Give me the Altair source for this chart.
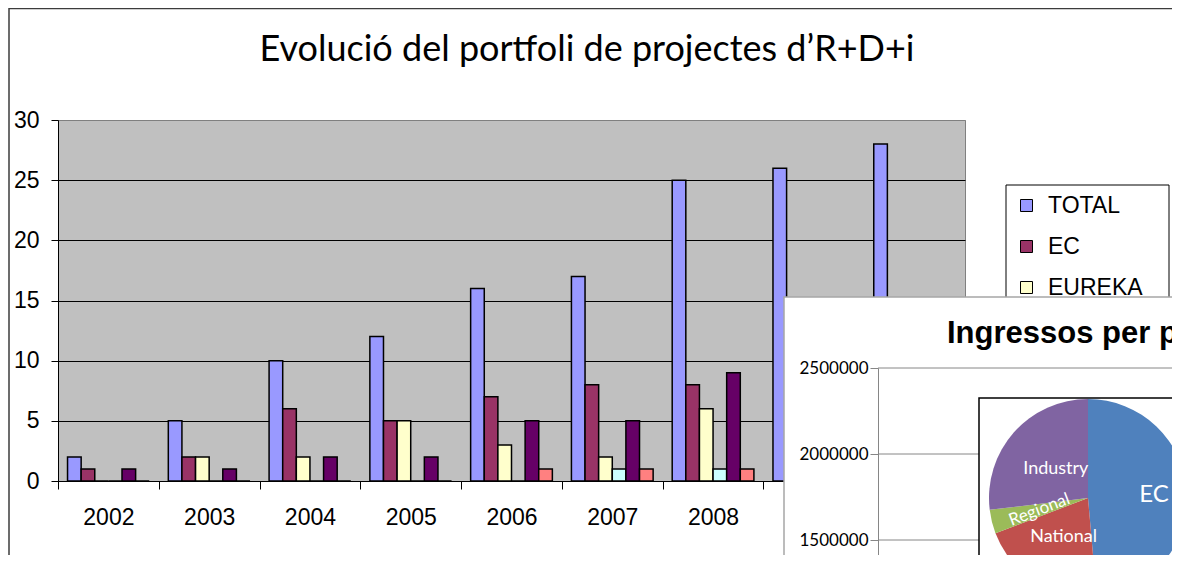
import altair as alt
import pandas as pd

# ---------------- data ----------------
years = ["2002", "2003", "2004", "2005", "2006", "2007", "2008", "2009", "2010"]
series = ["TOTAL", "EC", "EUREKA", "REGIONAL", "NACIONAL", "INDUSTRIA"]
total = [2, 5, 10, 12, 16, 17, 25, 26, 28]
ec = [1, 2, 6, 5, 7, 8, 8, 9, 10]
eureka = [0, 2, 2, 5, 3, 2, 6, 6, 6]
regional = [0, 0, 0, 0, 0, 1, 1, 1, 1]
nacional = [1, 1, 2, 2, 5, 5, 9, 9, 10]
industria = [0, 0, 0, 0, 1, 1, 1, 1, 1]
series_colors = ["#9999FF", "#993366", "#FFFFCC", "#CCFFFF", "#660066", "#FF8080"]
legend_shown = ["TOTAL", "EC", "EUREKA"]
y_ticks = [0, 5, 10, 15, 20, 25, 30]

main_title = "Evolució del portfoli de projectes d’R+D+i"
inset_title = "Ingressos per procedència"
inset_ticks = [1500000, 2000000, 2500000]
pie_labels = ["EC", "National", "Regional", "Industry"]
pie_values = [48.6, 20.6, 3.9, 26.9]
pie_colors = ["#4F81BD", "#C0504D", "#9BBB59", "#8064A2"]

# ---------------- tables ----------------
cols = [total, ec, eureka, regional, nacional, industria]
rows = []
for s, vals in zip(series, cols):
    for y, v in zip(years, vals):
        rows.append({"year": y, "series": s, "value": v})
df = pd.DataFrame(rows)
one = pd.DataFrame({"k": [0]})
pie_df = pd.DataFrame({"cat": pie_labels, "val": pie_values, "idx": list(range(len(pie_labels)))})
inset_df = pd.DataFrame({"v": inset_ticks})

ARIAL = "Liberation Sans"
CAL = "Lato"

# ---------------- main bar chart ----------------
bars = alt.Chart(df).mark_bar(stroke="black", strokeWidth=1.5).encode(
    x=alt.X("year:N", sort=years,
            scale=alt.Scale(domain=years, paddingInner=0, paddingOuter=0),
            axis=alt.Axis(title=None, labelAngle=0, tickBand="extent", tickSize=8,
                          labelPadding=17, labelFont=ARIAL, labelFontSize=23,
                          labelColor="black", domainColor="black", tickColor="black",
                          grid=False, zindex=0)),
    xOffset=alt.XOffset("series:N", sort=series,
                        scale=alt.Scale(domain=series, paddingOuter=0.7, paddingInner=0)),
    y=alt.Y("value:Q", scale=alt.Scale(domain=[0, 30], nice=False),
            axis=alt.Axis(title=None, values=y_ticks, tickSize=7, labelPadding=12,
                          labelFont=ARIAL, labelFontSize=23, labelColor="black",
                          domainColor="black", tickColor="black", grid=True,
                          gridColor=alt.condition("datum.value === 30", alt.value("#808080"), alt.value("black")),
                          gridWidth=1, zindex=0)),
    color=alt.Color("series:N", sort=series,
                    scale=alt.Scale(domain=series, range=series_colors),
                    legend=alt.Legend(title=None, orient="none", legendX=948, legendY=65,
                                      values=legend_shown, symbolType="square", symbolSize=144,
                                      symbolStrokeColor="black", symbolStrokeWidth=1,
                                      symbolOpacity=1, labelFont=ARIAL, labelFontSize=23,
                                      labelColor="black", labelOffset=10, rowPadding=17,
                                      padding=9)),
)

frame = alt.Chart(one).mark_rect(fill=None, stroke="#3c3c3c", strokeWidth=1.5).encode(
    x=alt.value(-49), x2=alt.value(1119), y=alt.value(-111.5), y2=alt.value(480))

legend_box = alt.Chart(one).mark_rect(fill="white", stroke="black", strokeWidth=1).encode(
    x=alt.value(948), x2=alt.value(1111), y=alt.value(65), y2=alt.value(480))

main_title_mark = alt.Chart(one).mark_text(font=CAL, fontSize=36, color="black",
                                           align="center", baseline="alphabetic").encode(
    x=alt.value(529), y=alt.value(-59), text=alt.value(main_title))

# ---------------- inset (overlapping second chart) ----------------
inset_bg = alt.Chart(one).mark_rect(fill="white", stroke="#A6A6A6", strokeWidth=1.5).encode(
    x=alt.value(726), x2=alt.value(1142), y=alt.value(177), y2=alt.value(480))

inset_grid = alt.Chart(inset_df).mark_rule(color="#868686", strokeWidth=1).encode(
    y=alt.Y("v:Q",
            scale=alt.Scale(domain=[1370000, 2500000], range=[442.36, 248], nice=False, zero=False),
            axis=alt.Axis(title=None, orient="left", offset=-820, values=inset_ticks,
                          format="d", tickSize=8, labelPadding=2, labelFont=CAL,
                          labelFontSize=17, labelColor="black", domainColor="#868686",
                          tickColor="#868686", grid=False, zindex=1)),
    x=alt.value(820), x2=alt.value(1142))

inset_title_mark = alt.Chart(one).mark_text(font=ARIAL, fontSize=31, fontWeight="bold",
                                            color="black", align="left",
                                            baseline="alphabetic").encode(
    x=alt.value(889), y=alt.value(223), text=alt.value(inset_title))

pie_box = alt.Chart(one).mark_rect(fill="white", stroke="black", strokeWidth=1.5).encode(
    x=alt.value(921), x2=alt.value(1142), y=alt.value(278), y2=alt.value(480))

pie_base = alt.Chart(pie_df).transform_stack(
    stack="val", groupby=[], as_=["v0", "v1"], sort=[alt.SortField("idx")]
).transform_calculate(mid="(datum.v0 + datum.v1) / 2")

theta_scale = alt.Scale(domain=[0, 100])

arcs = pie_base.mark_arc(outerRadius=99).encode(
    theta=alt.Theta("v0:Q", stack=None, scale=theta_scale),
    theta2="v1:Q",
    fill=alt.Fill("cat:N", scale=alt.Scale(domain=pie_labels, range=pie_colors), legend=None),
    x=alt.value(1030), y=alt.value(378))


def pie_text(cats, radius, size, angle=0):
    return pie_base.transform_filter(
        alt.FieldOneOfPredicate(field="cat", oneOf=cats)
    ).mark_text(radius=radius, font=CAL, fontSize=size, color="white",
                align="center", baseline="middle", angle=angle).encode(
        theta=alt.Theta("mid:Q", stack=None, scale=theta_scale),
        text="cat:N", x=alt.value(1030), y=alt.value(378))


lab_ec = pie_text(["EC"], 66, 24)
lab_ind = pie_text(["Industry"], 43, 18)
lab_nat = pie_text(["National"], 46, 18)
lab_reg = pie_text(["Regional"], 50, 17, angle=339)

chart = alt.layer(
    frame, bars, legend_box, main_title_mark,
    inset_bg, inset_grid, inset_title_mark, pie_box, arcs,
    lab_ec, lab_ind, lab_nat, lab_reg,
).resolve_scale(y="independent").properties(
    width=907, height=361,
    autosize=alt.AutoSizeParams(type="none"),
    padding={"left": 50, "top": 112, "right": 207, "bottom": 74},
    background="white",
).configure_view(fill="#C0C0C0", stroke="#808080", strokeWidth=1)

chart.save("out.html", embed_options={"renderer": "svg", "actions": False})
